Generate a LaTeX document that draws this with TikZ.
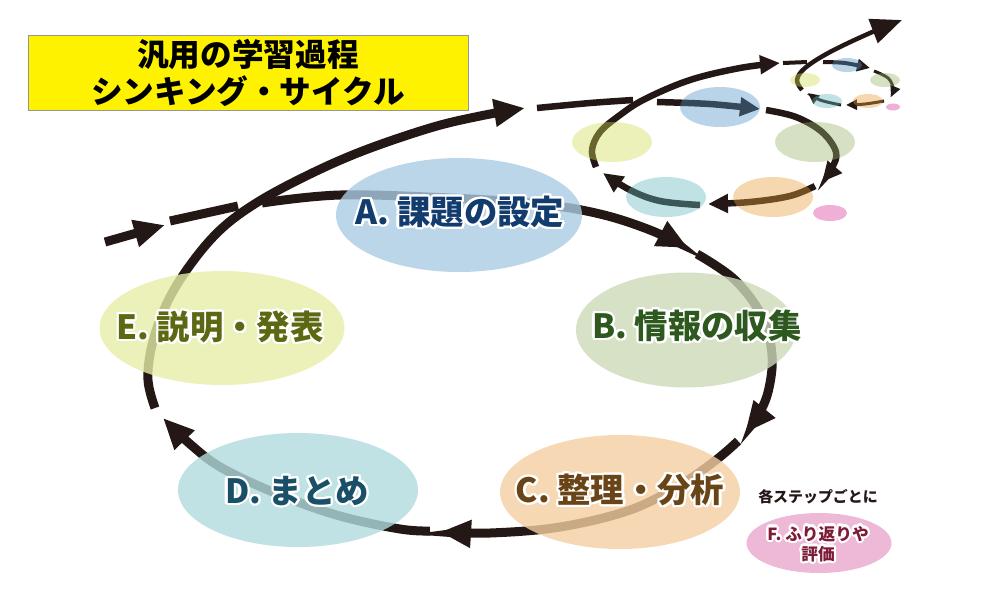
\documentclass[tikz,border=0pt]{standalone}
\usepackage{fontspec}
\usepackage{xcolor}
\usepackage{contour}
\usepackage{tikz}
\usetikzlibrary{shapes.geometric,arrows.meta}

\newfontfamily\jp{Noto Sans CJK JP}
\contourlength{1.3pt}
\contournumber{16}

\definecolor{arrowblk}{RGB}{35,24,21}
\definecolor{titlegray}{RGB}{150,150,150}
% main step colours
\definecolor{stepA}{RGB}{170,202,227}
\definecolor{stepB}{RGB}{204,217,184}
\definecolor{stepC}{RGB}{244,207,161}
\definecolor{stepD}{RGB}{177,219,221}
\definecolor{stepE}{RGB}{231,237,167}
\definecolor{stepF}{RGB}{238,185,215}
% small loop colours
\definecolor{miniA}{RGB}{80,147,197}
\definecolor{miniB}{RGB}{152,180,107}
\definecolor{miniC}{RGB}{230,157,57}
\definecolor{miniD}{RGB}{97,182,187}
\definecolor{miniE}{RGB}{208,220,80}
\definecolor{miniF}{RGB}{217,55,155}
% label colours
\definecolor{textA}{RGB}{18,60,110}
\definecolor{textB}{RGB}{45,88,30}
\definecolor{textC}{RGB}{105,68,22}
\definecolor{textD}{RGB}{25,80,104}
\definecolor{textE}{RGB}{92,104,18}
\definecolor{textF}{RGB}{125,28,55}

\begin{document}
\begin{tikzpicture}[x=0.02cm,y=-0.02cm,
    mainarrow/.style={draw=arrowblk, line width=0.18cm, -{Triangle[length=0.62cm,width=0.52cm]}},
    medarrow/.style={draw=arrowblk, line width=0.13cm, -{Triangle[length=0.4cm,width=0.36cm]}},
    smallarrow/.style={draw=arrowblk, line width=0.06cm, -{Triangle[length=0.22cm,width=0.2cm]}},
    bigstep/.style={ellipse, draw=none, inner sep=0pt, fill opacity=0.8, minimum width=4.8cm, minimum height=2.28cm},
    medstep/.style={ellipse, draw=none, inner sep=0pt, fill opacity=0.4, minimum width=1.6cm, minimum height=0.8cm},
    minstep/.style={ellipse, draw=none, inner sep=0pt, fill opacity=0.4, minimum width=0.6cm, minimum height=0.28cm},
    steplabel/.style={font=\jp\bfseries\fontsize{19}{22}\selectfont}
  ]
  \useasboundingbox (0,0) rectangle (1000,600);

  % title
  \node[draw=titlegray, fill=yellow, minimum width=8.8cm, minimum height=1.5cm, inner sep=0pt,
        align=center, font=\jp\bfseries\fontsize{18}{21}\selectfont] (title) at (248,73)
    {汎用の学習過程\\シンキング・サイクル};

  % large loop
  \draw[mainarrow] (105,242) -- (165,225);
  \draw[mainarrow, -] (170,221) -- (238,206);
  \draw[mainarrow] plot[smooth, tension=0.6] coordinates {(262,203) (340,195) (450,198) (540,204) (600,214) (650,230) (688,248)};
  \draw[mainarrow] plot[smooth, tension=0.6] coordinates {(697,254) (735,280) (763,318) (772,355) (769,388) (760,412) (745,433)};
  \draw[mainarrow] plot[smooth, tension=0.6] coordinates {(738,441) (716,460) (680,485) (630,510) (560,527) (490,533) (440,532)};
  \draw[mainarrow] plot[smooth, tension=0.6] coordinates {(430,531) (400,529) (340,516) (280,495) (222,468) (190,444) (163,418)};
  \draw[mainarrow] plot[smooth, tension=0.6] coordinates {(155,408) (148,380) (152,345) (166,305) (188,268) (218,232) (253,205) (302,178) (360,152) (430,128) (480,116) (525,108)};
  \draw[medarrow, -] plot[smooth] coordinates {(537,108) (590,103) (633,100)};
  \draw[medarrow] plot[smooth] coordinates {(657,102) (710,104) (760,109)};

  % middle loop
  \draw[medarrow] plot[smooth, tension=0.6] coordinates {(766,110) (796,117) (822,132) (836,152) (832,168) (822,182)};
  \draw[medarrow] plot[smooth, tension=0.6] coordinates {(815,186) (790,196) (750,202) (708,204)};
  \draw[medarrow] plot[smooth, tension=0.6] coordinates {(700,205) (660,201) (630,190) (603,173)};
  \draw[medarrow] plot[smooth, tension=0.6] coordinates {(596,167) (592,150) (600,132) (620,115) (645,99) (690,80) (740,68) (780,63)};
  \draw[smallarrow, line width=0.08cm, -] (783,63) -- (807,62);
  \draw[smallarrow, line width=0.08cm, -{Triangle[length=0.26cm,width=0.24cm]}] plot[smooth] coordinates {(823,62) (845,63) (870,68)};

  % small loop
  \draw[smallarrow] plot[smooth, tension=0.6] coordinates {(874,71) (888,78) (893,88) (891,97)};
  \draw[smallarrow] plot[smooth, tension=0.6] coordinates {(884,101) (865,104) (846,105)};
  \draw[smallarrow] plot[smooth, tension=0.6] coordinates {(841,105) (820,100) (808,93)};
  \draw[smallarrow, line width=0.09cm, -{Triangle[length=0.62cm,width=0.5cm]}] plot[smooth, tension=0.6] coordinates {(802,90) (797,80) (805,68) (830,52) (870,33) (902,20)};

  % steps of the large loop
  \node[bigstep, fill=stepA, minimum width=4.92cm] (a) at (459,215) {};
  \node[bigstep, fill=stepB, minimum width=4.4cm, minimum height=2.3cm] (b) at (686,330) {};
  \node[bigstep, fill=stepC] (c) at (620,492) {};
  \node[bigstep, fill=stepD] (d) at (298,490) {};
  \node[bigstep, fill=stepE, minimum width=4.9cm] (e) at (222,328) {};

  % steps of the middle loop
  \node[medstep, fill=miniA] (ma) at (720,107) {};
  \node[medstep, fill=miniB] (mb) at (815,142) {};
  \node[medstep, fill=miniC] (mc) at (773,197) {};
  \node[medstep, fill=miniD] (md) at (666,197) {};
  \node[medstep, fill=miniE] (me) at (612,142) {};
  \node[medstep, fill=miniF, minimum width=0.68cm, minimum height=0.32cm] (mf) at (830,213) {};

  % steps of the small loop
  \node[minstep, fill=miniA] (sa) at (847,65) {};
  \node[minstep, fill=miniB] (sb) at (885,80) {};
  \node[minstep, fill=miniC] (sc) at (868,101) {};
  \node[minstep, fill=miniD] (sd) at (827,101) {};
  \node[minstep, fill=miniE] (se) at (805,80) {};
  \node[minstep, fill=miniF, minimum width=0.28cm, minimum height=0.14cm] (sf) at (893,107) {};

  % labels
  \node[steplabel, text=textA] (la) at (460,213) {\contour{white}{A. 課題の設定}};
  \node[steplabel, text=textB] (lb) at (697,327) {\contour{white}{B. 情報の収集}};
  \node[steplabel, text=textC] (lc) at (620,491) {\contour{white}{C. 整理・分析}};
  \node[steplabel, text=textD] (ld) at (297,492) {\contour{white}{D. まとめ}};
  \node[steplabel, text=textE] (le) at (220,328) {\contour{white}{E. 説明・発表}};

  % reflection step
  \node[text=arrowblk, font=\jp\bfseries\fontsize{8.5}{10}\selectfont] (each) at (818,497) {各ステップごとに};
  \node[ellipse, fill=stepF, inner sep=0pt, minimum width=2.9cm, minimum height=1.2cm] (f) at (819,543) {};
  \node[text=textF, align=center, font=\jp\bfseries\fontsize{9.5}{11.5}\selectfont] (lf) at (818,545)
    {\contour{white}{F. ふり返りや}\\\contour{white}{評価}};
\end{tikzpicture}
\end{document}
